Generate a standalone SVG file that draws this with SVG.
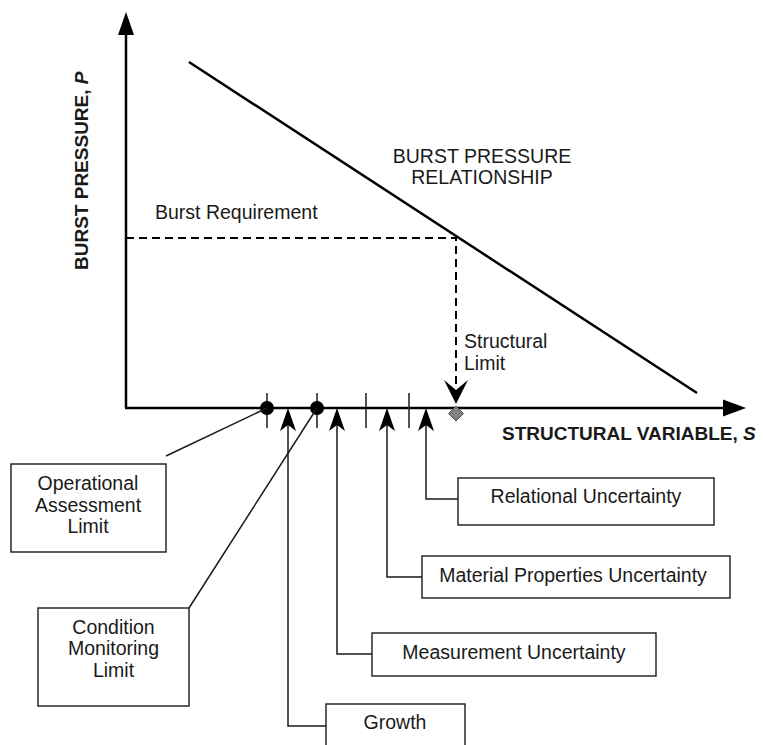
<svg xmlns="http://www.w3.org/2000/svg" width="763" height="745" viewBox="0 0 763 745">
<style>
text{font-family:"Liberation Sans",Arial,sans-serif;font-size:19.5px;fill:#1a1a1a}
.b{font-weight:bold;font-size:19px}
.c{text-anchor:middle}
.box{fill:#fff;stroke:#1a1a1a;stroke-width:1.4}
.ax{stroke:#000;stroke-width:2.5;fill:none}
.ln{stroke:#1a1a1a;stroke-width:1.5;fill:none}
.dash{stroke:#000;stroke-width:2;fill:none;stroke-dasharray:8 5}
.ah{fill:#000}
</style>
<rect width="763" height="745" fill="#fff"/>
<g id="axes">
<line class="ax" x1="126" y1="30" x2="126" y2="408"/>
<line class="ax" x1="125" y1="408" x2="728" y2="408"/>
<path class="ah" d="M126,12 L134,35 L118,35 Z"/>
<path class="ah" d="M746,408 L723,399.5 L723,416.5 Z"/>
<text class="b" transform="translate(88,270) rotate(-90)">BURST PRESSURE, <tspan font-style="italic">P</tspan></text>
<text class="b" x="502" y="440">STRUCTURAL VARIABLE, <tspan font-style="italic">S</tspan></text>
</g>
<g id="curve">
<line class="ax" x1="189" y1="62" x2="697" y2="393"/>
<text class="c" x="482" y="163">BURST PRESSURE</text>
<text class="c" x="482" y="184">RELATIONSHIP</text>
</g>
<g id="requirement">
<path class="dash" d="M126,238 L456,238 L456,384"/>
<path class="ah" d="M444,380 L456,390 L468,380 L456,404 Z"/>
<text x="155" y="219">Burst Requirement</text>
<text x="464" y="348">Structural</text>
<text x="464" y="370">Limit</text>
<path d="M456,406 L463.5,413.5 L456,421 L448.5,413.5 Z" fill="#808080" stroke="#505050" stroke-width="1"/>
</g>
<g id="ticks">
<line class="ln" x1="267" y1="393" x2="267" y2="428"/>
<line class="ln" x1="317" y1="393" x2="317" y2="428"/>
<line class="ln" x1="366" y1="393" x2="366" y2="428"/>
<line class="ln" x1="409" y1="393" x2="409" y2="428"/>
<circle cx="267" cy="408" r="7" fill="#000"/>
<circle cx="317" cy="408" r="7" fill="#000"/>
</g>
<g id="connectors">
<line class="ln" x1="267" y1="408" x2="166" y2="456"/>
<line class="ln" x1="317" y1="408" x2="189" y2="608"/>
<path class="ln" d="M288,420 L288,726 L326,726"/>
<path class="ln" d="M337,420 L337,654 L372,654"/>
<path class="ln" d="M387,420 L387,577 L422,577"/>
<path class="ln" d="M426,420 L426,499 L458,499"/>
<path class="ah" d="M288,408 L296,431 L288,425 L280,431 Z"/>
<path class="ah" d="M337,408 L345,431 L337,425 L329,431 Z"/>
<path class="ah" d="M387,408 L395,431 L387,425 L379,431 Z"/>
<path class="ah" d="M426,408 L434,431 L426,425 L418,431 Z"/>
</g>
<g id="operational">
<rect class="box" x="11" y="464" width="155" height="88"/>
<text class="c" x="88" y="490">Operational</text>
<text class="c" x="88" y="512">Assessment</text>
<text class="c" x="88" y="533">Limit</text>
</g>
<g id="condition">
<rect class="box" x="38" y="608" width="151" height="98"/>
<text class="c" x="113.5" y="634">Condition</text>
<text class="c" x="113.5" y="655">Monitoring</text>
<text class="c" x="113.5" y="677">Limit</text>
</g>
<g id="relational">
<rect class="box" x="458" y="478" width="256" height="47"/>
<text class="c" x="586" y="503">Relational Uncertainty</text>
</g>
<g id="material">
<rect class="box" x="422" y="556" width="308" height="42"/>
<text class="c" x="573" y="582">Material Properties Uncertainty</text>
</g>
<g id="measurement">
<rect class="box" x="372" y="633" width="284" height="43"/>
<text class="c" x="514" y="659">Measurement Uncertainty</text>
</g>
<g id="growth">
<rect class="box" x="326" y="704" width="139" height="60"/>
<text class="c" x="395" y="729">Growth</text>
</g>
</svg>
